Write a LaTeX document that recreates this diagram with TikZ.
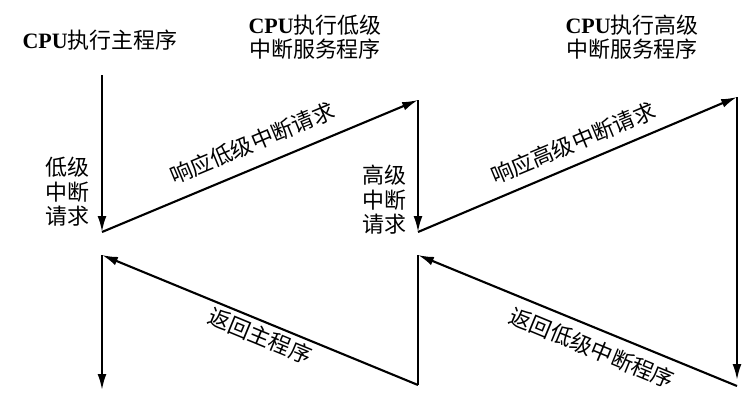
\documentclass[tikz,border=0pt]{standalone}
\usepackage{fontspec}
\setmainfont{Liberation Serif}
\newfontfamily\cjk{Noto Sans CJK SC}
\usetikzlibrary{arrows.meta}
\begin{document}
\begin{tikzpicture}[x=0.02cm,y=-0.02cm,
  flow/.style={line width=1.2pt,-{Latex[length=9pt,width=5pt]}},
  plain/.style={line width=1.2pt},
  lbl/.style={font=\cjk\fontsize{12.5}{14}\selectfont,align=center,inner sep=0pt}]
\newcommand\cpu{{\rmfamily\bfseries CPU}}
\useasboundingbox (0,0) rectangle (753,414);
\coordinate (a0) at (102,75); \coordinate (a1) at (102,232);
\coordinate (b0) at (418,100); \coordinate (b1) at (418,232);
\coordinate (c0) at (737,97); \coordinate (c1) at (737,380);
\coordinate (d0) at (737,386); \coordinate (d1) at (418,255);
\coordinate (e0) at (418,385); \coordinate (e1) at (102,255);
\coordinate (f0) at (102,390);
\draw[flow] (a0) -- (a1);
\draw[flow] (a1) -- (b0);
\draw[flow] (b0) -- (b1);
\draw[flow] (b1) -- (c0);
\draw[flow] (c0) -- (c1);
\draw[flow] (d0) -- (d1);
\draw[plain] (d1) -- (e0);
\draw[flow] (e0) -- (e1);
\draw[flow] (e1) -- (f0);
\node[lbl] (t1) at (100,40) {\cpu 执行主程序};
\node[lbl] (t2) at (315,37) {\cpu 执行低级\\中断服务程序};
\node[lbl] (t3) at (632,37) {\cpu 执行高级\\中断服务程序};
\node[lbl] (l1) at (67,192) {低级\\中断\\请求};
\node[lbl] (l2) at (384,200) {高级\\中断\\请求};
\node[lbl,rotate=22.7] (r1) at (252,143) {响应低级中断请求};
\node[lbl,rotate=22.7] (r2) at (573,143) {响应高级中断请求};
\node[lbl,rotate=-22.4] (r3) at (260,336) {返回主程序};
\node[lbl,rotate=-22.4] (r4) at (592,348) {返回低级中断程序};
\end{tikzpicture}
\end{document}
